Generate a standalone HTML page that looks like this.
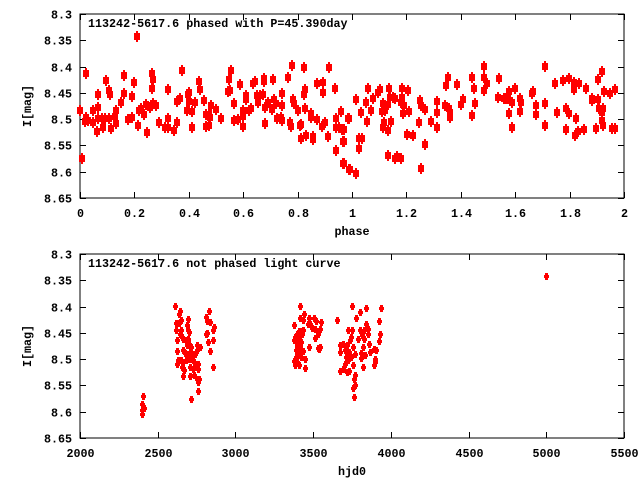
<!DOCTYPE html>
<html><head><meta charset="utf-8"><style>
html,body{margin:0;padding:0;background:#fff;}
svg{display:block;}
text{font-family:"Liberation Mono",monospace;font-weight:bold;font-size:11.7px;fill:#000;}
</style></head><body>
<svg id="chart" width="640" height="480" viewBox="0 0 640 480" xmlns="http://www.w3.org/2000/svg">
<rect x="0" y="0" width="640" height="480" fill="#fff"/>
<g id="top"></g>
<g id="bot"></g>
</svg>
<script>
// ---- Phased data ----
const phaseValues = [0.000,0.009,0.021,0.017,0.023,0.028,0.046,0.046,0.061,0.065,0.067,0.068,0.080,0.086,0.094,0.093,0.105,0.108,0.112,0.114,0.127,0.134,0.134,0.151,0.160,0.160,0.178,0.192,0.192,0.200,0.211,0.214,0.218,0.223,0.236,0.242,0.247,0.259,0.266,0.266,0.269,0.269,0.281,0.289,0.312,0.324,0.324,0.324,0.345,0.358,0.358,0.367,0.375,0.395,0.398,0.401,0.401,0.412,0.413,0.424,0.438,0.441,0.456,0.464,0.464,0.475,0.477,0.474,0.481,0.499,0.519,0.543,0.552,0.549,0.554,0.565,0.568,0.582,0.587,0.598,0.598,0.598,0.611,0.611,0.620,0.627,0.635,0.642,0.652,0.654,0.663,0.674,0.675,0.678,0.681,0.681,0.693,0.705,0.711,0.715,0.719,0.726,0.738,0.742,0.742,0.744,0.766,0.771,0.775,0.781,0.784,0.788,0.803,0.808,0.814,0.814,0.823,0.825,0.828,0.829,0.831,0.848,0.851,0.855,0.857,0.870,0.872,0.890,0.895,0.895,0.900,0.915,0.912,0.937,0.940,0.943,0.942,0.954,0.960,0.965,0.967,0.967,0.985,0.988,0.969,0.971,0.969,0.992,0.988,
1.014,1.014,1.025,1.036,1.025,1.032,1.051,1.054,1.058,1.069,1.076,1.095,1.102,1.113,1.109,1.120,1.113,1.117,1.131,1.131,1.135,1.131,1.139,1.142,1.150,1.158,1.157,1.166,1.179,1.179,1.183,1.183,1.187,1.190,1.201,1.205,1.209,1.223,1.249,1.252,1.245,1.252,1.267,1.267,1.289,1.311,1.311,1.311,1.341,1.344,1.352,1.355,1.359,1.359,1.385,1.399,1.407,1.443,1.447,1.451,1.443,1.487,1.487,1.495,1.487,1.535,1.539,1.557,1.568,1.575,1.579,1.579,1.590,1.590,1.601,1.619,1.623,1.619,1.663,1.667,1.678,1.678,1.708,1.711,1.711,1.748,1.755,1.774,1.788,1.788,1.796,1.799,1.818,1.818,1.825,1.821,1.832,1.836,1.854,1.862,1.884,1.884,1.898,1.906,1.906,1.909,1.920,1.924,1.920,1.920,1.924,1.928,1.950,1.955,1.966,1.968];
const phaseMags = [8.482,8.574,8.413,8.504,8.496,8.501,8.482,8.506,8.522,8.453,8.477,8.498,8.498,8.515,8.426,8.498,8.498,8.444,8.453,8.516,8.494,8.482,8.508,8.468,8.416,8.451,8.499,8.496,8.456,8.429,8.341,8.511,8.482,8.479,8.491,8.472,8.525,8.476,8.413,8.441,8.423,8.470,8.473,8.506,8.515,8.498,8.443,8.514,8.521,8.466,8.505,8.459,8.407,8.482,8.452,8.448,8.465,8.485,8.515,8.468,8.427,8.443,8.464,8.491,8.513,8.491,8.496,8.511,8.473,8.481,8.497,8.447,8.444,8.424,8.407,8.470,8.501,8.499,8.433,8.482,8.494,8.513,8.454,8.462,8.482,8.479,8.432,8.428,8.454,8.468,8.454,8.453,8.422,8.427,8.477,8.508,8.467,8.481,8.423,8.461,8.470,8.497,8.496,8.501,8.473,8.451,8.420,8.506,8.513,8.397,8.462,8.470,8.482,8.511,8.510,8.536,8.401,8.453,8.443,8.479,8.530,8.489,8.495,8.533,8.538,8.499,8.432,8.513,8.430,8.449,8.506,8.401,8.532,8.441,8.497,8.515,8.558,8.515,8.485,8.519,8.542,8.584,8.497,8.595,8.519,8.542,8.584,8.595,8.498,
8.462,8.603,8.535,8.535,8.554,8.487,8.468,8.504,8.441,8.483,8.459,8.449,8.443,8.470,8.485,8.483,8.514,8.506,8.472,8.521,8.441,8.569,8.457,8.504,8.458,8.459,8.573,8.570,8.573,8.468,8.440,8.457,8.489,8.474,8.529,8.445,8.485,8.531,8.464,8.474,8.506,8.592,8.481,8.548,8.504,8.466,8.487,8.514,8.474,8.436,8.420,8.478,8.487,8.495,8.434,8.472,8.462,8.420,8.440,8.470,8.493,8.398,8.420,8.432,8.445,8.457,8.422,8.459,8.460,8.460,8.447,8.489,8.468,8.514,8.441,8.460,8.468,8.485,8.451,8.447,8.474,8.491,8.398,8.470,8.512,8.432,8.487,8.426,8.478,8.519,8.422,8.489,8.430,8.443,8.498,8.531,8.523,8.432,8.519,8.441,8.459,8.464,8.516,8.424,8.462,8.478,8.409,8.479,8.487,8.502,8.512,8.447,8.451,8.517,8.516,8.443];
const phaseTicks = ["0","0.2","0.4","0.6","0.8","1","1.2","1.4","1.6","1.8","2"];
const magTicks = ["8.3","8.35","8.4","8.45","8.5","8.55","8.6","8.65"];
// ---- Unphased data ----
const hjdValues = [2407,2400,2411,2400,2400,
2612,2644,2638,2651,2619,2638,2696,2689,2696,2702,2619,2651,2625,2644,2657,2664,2683,2696,2689,2702,2715,2754,2773,2625,2664,2677,2689,2709,2722,2741,2754,2632,2651,2664,2683,2702,2722,2734,2760,2625,2657,2670,2709,2728,2747,2760,2664,2709,2734,2754,2766,2760,2760,2715,2831,2811,2818,2837,2863,2856,2818,2811,2824,2856,2837,2856,
3415,3441,3415,3434,3473,3505,3518,3550,3466,3479,3377,3492,3511,3544,3409,3421,3434,3396,3428,3531,3383,3409,3511,3377,3402,3421,3396,3415,3473,3531,3544,3537,3389,3409,3434,3396,3421,3383,3447,3377,3396,3409,3383,3447,
3749,3800,3839,3935,3775,3653,3922,3839,3723,3749,3800,3826,3852,3929,3813,3852,3743,3788,3826,3691,3736,3858,3922,3672,3717,3755,3820,3890,3903,3672,3704,3730,3768,3807,3865,3832,3710,3743,3807,3723,3897,3704,3755,3820,3890,3897,3691,3717,3730,3672,3768,3762,3768,3755,3762,
5000];
const hjdMags = [8.571,8.586,8.593,8.605,8.596,
8.399,8.408,8.415,8.426,8.431,8.431,8.424,8.436,8.445,8.448,8.445,8.445,8.464,8.453,8.457,8.462,8.464,8.461,8.474,8.471,8.477,8.474,8.476,8.485,8.483,8.488,8.491,8.486,8.490,8.490,8.483,8.502,8.501,8.505,8.502,8.499,8.499,8.505,8.509,8.509,8.515,8.521,8.515,8.518,8.515,8.518,8.533,8.533,8.531,8.537,8.537,8.544,8.561,8.575,8.409,8.420,8.427,8.430,8.438,8.445,8.450,8.453,8.467,8.464,8.485,8.514,
8.399,8.415,8.422,8.426,8.422,8.422,8.428,8.430,8.434,8.434,8.436,8.441,8.443,8.443,8.447,8.447,8.445,8.453,8.453,8.453,8.457,8.457,8.460,8.464,8.464,8.467,8.474,8.477,8.476,8.478,8.476,8.481,8.483,8.486,8.485,8.493,8.495,8.499,8.499,8.504,8.505,8.512,8.512,8.517,
8.399,8.410,8.403,8.403,8.422,8.426,8.428,8.434,8.445,8.445,8.445,8.445,8.443,8.453,8.455,8.453,8.457,8.461,8.461,8.471,8.464,8.471,8.466,8.474,8.474,8.477,8.477,8.480,8.483,8.486,8.483,8.486,8.490,8.488,8.486,8.493,8.496,8.496,8.498,8.502,8.499,8.509,8.512,8.515,8.512,8.505,8.518,8.524,8.523,8.523,8.531,8.537,8.550,8.554,8.572,
8.342];
const hjdTicks = ["2000","2500","3000","3500","4000","4500","5000","5500"];

const NS = "http://www.w3.org/2000/svg";
function mk(tag, attrs, parent){ const e=document.createElementNS(NS,tag); for(const k in attrs) e.setAttribute(k,attrs[k]); parent.appendChild(e); return e; }

function panel(g, box, xmin, xmax, xTicks, xlab, title, isTop){
  const xs = v => box.l + (v - xmin)/(xmax - xmin)*(box.r - box.l);
  const ys = v => box.t + (v - 8.3)/(0.35)*(box.b - box.t);
  const frame = mk('rect',{x:box.l,y:box.t,width:box.r-box.l,height:box.b-box.t,fill:'none',stroke:'#000','stroke-width':1},g);
  
  
  magTicks.forEach(t=>{
    const y = Math.round(ys(parseFloat(t)))+0.5;
    const l1 = mk('path',{d:`M${box.l} ${y}h6M${box.r} ${y}h-6`,stroke:'#000','stroke-width':1},g);
    
    
    const tx = mk('text',{x:box.l-8,y:y+4,'text-anchor':'end'},g);
    
    
    tx.textContent = t;
  });
  xTicks.forEach(t=>{
    const x = Math.round(xs(parseFloat(t)))+0.5;
    const l1 = mk('path',{d:`M${x} ${box.b}v-6M${x} ${box.t}v6`,stroke:'#000','stroke-width':1},g);
    
    
    const tx = mk('text',{x:x,y:box.b+19,'text-anchor':'middle'},g);
    
    
    tx.textContent = t;
  });
  const xl = mk('text',{x:(box.l+box.r)/2,y:box.b+37,'text-anchor':'middle'},g);
  
  
  xl.textContent = xlab;
  const cy = (box.t+box.b)/2;
  const yl = mk('text',{x:31,y:cy,'text-anchor':'middle',transform:`rotate(-90 31 ${cy})`},g);
  
  
  yl.textContent = 'I[mag]';
  const tt = mk('text',{x:88,y:box.t+13},g);
  
  
  tt.textContent = title;
  return {xs, ys};
}

const topG = document.getElementById('top');
const botG = document.getElementById('bot');
const A = panel(topG,{l:80,r:624,t:14,b:198},0,2,phaseTicks,'phase','113242-5617.6 phased with P=45.390day',true);
const B = panel(botG,{l:80,r:624,t:254,b:438},2000,5500,hjdTicks,'hjd0','113242-5617.6 not phased light curve',false);

phaseValues.forEach((p,i)=>{
  const cx = Math.round(A.xs(p)), cy = Math.round(A.ys(phaseMags[i]));
  const pt = mk('path',{d:`M${cx-3} ${cy-3}h6v7h-6zM${cx-1} ${cy-5}h2v11h-2z`,fill:'#ff0000'},topG);
  
  
});
hjdValues.forEach((h,i)=>{
  const cx = Math.round(B.xs(h)), cy = Math.round(B.ys(hjdMags[i]));
  const pt = mk('path',{d:`M${cx-1} ${cy-3}h3v7h-3zM${cx-2} ${cy-1}h5v3h-5z`,fill:'#ff0000'},botG);
  
  
});
</script>
</body></html>
